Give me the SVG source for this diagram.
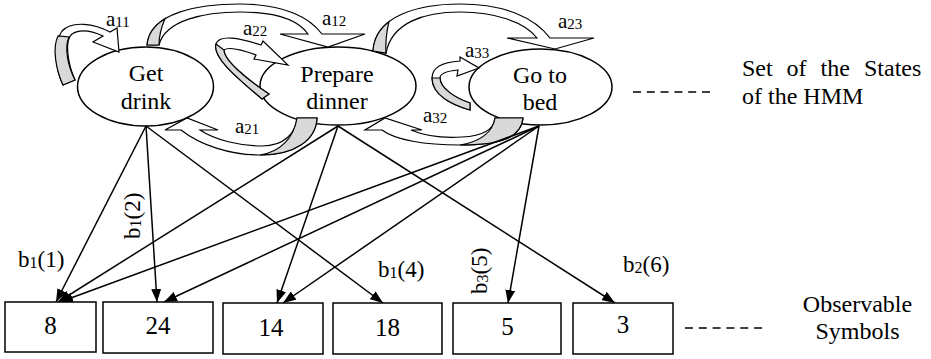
<svg xmlns="http://www.w3.org/2000/svg" width="931" height="359" viewBox="0 0 931 359" font-family="'Liberation Serif', 'DejaVu Serif', 'Times New Roman', serif">
<style>
text, tspan{font-family:'Liberation Serif','DejaVu Serif','Times New Roman',serif;fill:#000}
.node{fill:#fff;stroke:#000;stroke-width:1.5}
.st{font-size:24px;text-anchor:middle}
.band{fill:#fff;stroke:#000;stroke-width:1.2;stroke-linejoin:miter}
.shade{fill:#d9d9d9;stroke:#000;stroke-width:1.2}
.lbl{font-size:21px}
.sub{font-size:15px}
.bl{font-size:23px}
.bsub{font-size:16px}
.edge{fill:none;stroke:#000;stroke-width:1.5}
.dash{stroke:#000;stroke-width:1.5;stroke-dasharray:8 5.8}
.side{font-size:24px}
</style>
<defs>
<marker id="ah" viewBox="0 0 13 10" refX="13" refY="5" markerWidth="13" markerHeight="10" orient="auto" markerUnits="userSpaceOnUse">
<path d="M0,0 L13,5 L0,10 Z" fill="#000"/>
</marker>
</defs>

<g id="get-drink">
<ellipse class="node" cx="145.5" cy="86.5" rx="68" ry="39.5"/>
<text class="st" x="146" y="81" font-family="Liberation Serif, serif">Get</text>
<text class="st" x="146" y="109" font-family="Liberation Serif, serif">drink</text>
</g>
<g id="prepare-dinner">
<ellipse class="node" cx="338" cy="86" rx="78" ry="39"/>
<text class="st" x="337" y="82" font-family="Liberation Serif, serif">Prepare</text>
<text class="st" x="337" y="109" font-family="Liberation Serif, serif">dinner</text>
</g>
<g id="go-to-bed">
<ellipse class="node" cx="540.5" cy="87" rx="71.5" ry="38"/>
<text class="st" x="540" y="83" font-family="Liberation Serif, serif">Go to</text>
<text class="st" x="540" y="110" font-family="Liberation Serif, serif">bed</text>
</g>

<g id="transitions" font-family="Liberation Serif, serif">
<g id="t-a11">
<path class="band" d="M63,85 C56,70 52,45 62,31 C72,20 95,24 110,32 L117,28 L119,52 L93,42 L103,36 C92,31 80,29 72,34 C64,40 68,65 75,80 Z"/>
<path class="shade" d="M63,85 C56,70 52,48 58,36 L69,37 C64,48 68,66 75,80 Z"/>
<text class="lbl" x="106" y="26">a<tspan class="sub" dy="1">11</tspan></text>
</g>
<g id="t-a12">
<path class="band" d="M147,45 C150,12 200,4 240,4 C285,4 310,18 322,34 L365,34 L328,47 L280,34 L308,34 C298,20 275,12 240,12 C205,12 165,20 159,45 Z"/>
<path class="shade" d="M147,45 C148.05,33.45 154.86,24.96 164.98,18.81 C161,28 159,36 159,45 Z"/>
<text class="lbl" x="322" y="25">a<tspan class="sub" dy="1">12</tspan></text>
</g>
<g id="t-a22">
<path class="band" d="M262,99 C240,80 212,58 216,44 C219,34 240,38 261,45 L263,41 L288,65 L254,59 L256,55 C240,49 228,47 224,50 C224,60 245,78 269,94 Z"/>
<path class="shade" d="M262,99 C240,80 212,58 216,44 L224,50 C224,60 245,78 269,94 Z"/>
<text class="lbl" x="243" y="35">a<tspan class="sub" dy="1">22</tspan></text>
</g>
<g id="t-a21">
<path class="band" d="M317,118 C316,140 295,155 260,155 C230,155 200,145 181,130 L165,130 L187,118 L218,130 L200,130 C215,140 240,146 262,146 C285,146 296,132 297,118 Z"/>
<path class="shade" d="M297,118 L317,118 C316,140 295,155 260,155 C280,152 294,138 297,118 Z"/>
<text class="lbl" x="235" y="133">a<tspan class="sub" dy="1">21</tspan></text>
</g>
<g id="t-a23">
<path class="band" d="M373,51 C375,15 420,4 460,4 C505,4 535,18 550,38 L594,38 L555,49 L507,38 L537,38 C525,22 495,12 460,12 C425,12 392,22 386,53 Z"/>
<path class="shade" d="M373,51 C373.7,38.4 379.67,28.86 388.85,21.79 C387,30 385,40 386,53 Z"/>
<text class="lbl" x="558" y="28">a<tspan class="sub" dy="1">23</tspan></text>
</g>
<g id="t-a33">
<path class="band" d="M470,110 C452,105 432,95 432,78 C432,66 445,62 460,61 L460,57 L479,68 L457,76 L458,70 C448,71 440,73 440,78 C440,88 455,98 470,103 Z"/>
<path class="shade" d="M470,110 C452,105 432,95 432,78 L440,78 C440,88 455,98 470,103 Z"/>
<text class="lbl" x="465" y="57">a<tspan class="sub" dy="1">33</tspan></text>
</g>
<g id="t-a32">
<path class="band" d="M523,118 C521,138 500,145 460,145 C425,145 395,140 382,130 L365,130 L385,118 L422,130 L411,130 C425,136 445,138 462,137 C485,136 494,128 495,118 Z"/>
<path class="shade" d="M495,118 L523,118 C521,138 500,145 460,145 C480,142 493,132 495,118 Z"/>
<text class="lbl" x="423" y="122">a<tspan class="sub" dy="1">32</tspan></text>
</g>
</g>

<g id="connectors" font-family="Liberation Serif, serif">
<line class="edge" x1="146" y1="126" x2="56" y2="302" marker-end="url(#ah)"/>
<line class="edge" x1="146" y1="126" x2="157" y2="302" marker-end="url(#ah)"/>
<line class="edge" x1="146" y1="126" x2="383" y2="303" marker-end="url(#ah)"/>
<line class="edge" x1="338" y1="126" x2="58" y2="302" marker-end="url(#ah)"/>
<line class="edge" x1="338" y1="126" x2="277" y2="303" marker-end="url(#ah)"/>
<line class="edge" x1="338" y1="126" x2="615" y2="303" marker-end="url(#ah)"/>
<line class="edge" x1="539" y1="126" x2="60" y2="302" marker-end="url(#ah)"/>
<line class="edge" x1="539" y1="126" x2="164" y2="302" marker-end="url(#ah)"/>
<line class="edge" x1="539" y1="126" x2="283" y2="303" marker-end="url(#ah)"/>
<line class="edge" x1="539" y1="126" x2="508" y2="303" marker-end="url(#ah)"/>
<text class="bl" x="18" y="267">b<tspan class="bsub" dy="1">1</tspan><tspan dy="-1">(1)</tspan></text>
<text class="bl" transform="translate(140,239) rotate(-90)">b<tspan class="bsub" dy="1">1</tspan><tspan dy="-1">(2)</tspan></text>
<text class="bl" x="378" y="277">b<tspan class="bsub" dy="1">1</tspan><tspan dy="-1">(4)</tspan></text>
<text class="bl" transform="translate(487,294) rotate(-90)">b<tspan class="bsub" dy="1">3</tspan><tspan dy="-1">(5)</tspan></text>
<text class="bl" x="623" y="272">b<tspan class="bsub" dy="1">2</tspan><tspan dy="-1">(6)</tspan></text>
</g>

<g id="symbols" font-family="Liberation Serif, serif">
<g id="sym-8"><rect class="node" x="5" y="302" width="91" height="50"/><text class="st" style="font-size:25px" x="50.5" y="334">8</text></g>
<g id="sym-24"><rect class="node" x="103" y="302" width="110" height="51"/><text class="st" style="font-size:25px" x="158" y="334">24</text></g>
<g id="sym-14"><rect class="node" x="223" y="303" width="100" height="51"/><text class="st" style="font-size:25px" x="271" y="336">14</text></g>
<g id="sym-18"><rect class="node" x="333" y="303" width="109" height="51"/><text class="st" style="font-size:25px" x="387.5" y="336">18</text></g>
<g id="sym-5"><rect class="node" x="453" y="303" width="108" height="51"/><text class="st" style="font-size:25px" x="507.5" y="335">5</text></g>
<g id="sym-3"><rect class="node" x="573" y="303" width="100" height="51"/><text class="st" style="font-size:25px" x="623" y="333">3</text></g>
</g>

<g id="legend" font-family="Liberation Serif, serif">
<line class="dash" x1="633" y1="92" x2="710" y2="92"/>
<text class="side" y="76"><tspan x="742">Set</tspan><tspan x="786.5">of</tspan><tspan x="820.5">the</tspan><tspan x="864">States</tspan></text>
<text class="side" x="742" y="104">of the HMM</text>
<line class="dash" x1="685" y1="328" x2="763" y2="328"/>
<text class="side" x="857.5" y="312" text-anchor="middle">Observable</text>
<text class="side" x="857.5" y="339" text-anchor="middle">Symbols</text>
</g>
</svg>
